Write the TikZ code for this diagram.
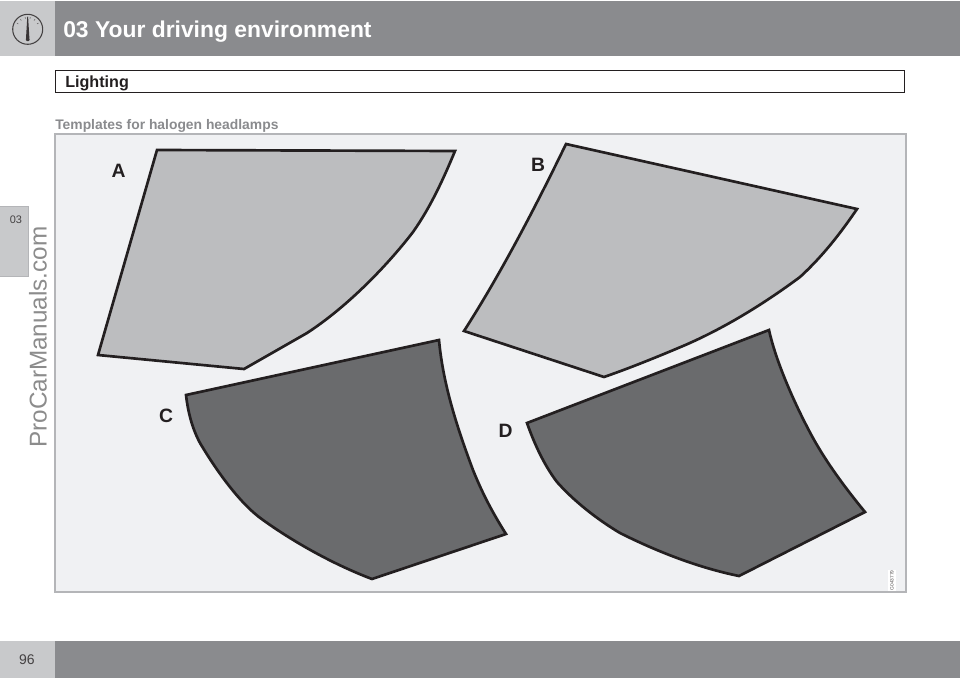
\documentclass[tikz,border=0pt]{standalone}
\usepackage{fontspec}
\usetikzlibrary{calc}
\setmainfont{Liberation Sans}
\definecolor{bandgray}{HTML}{8A8B8E}
\definecolor{tabgray}{HTML}{C8C9CB}
\definecolor{panelgray}{HTML}{F0F1F3}
\definecolor{panelline}{HTML}{B4B5B8}
\definecolor{lightshape}{HTML}{BCBDBF}
\definecolor{darkshape}{HTML}{6A6B6D}
\definecolor{outlinecol}{HTML}{231F20}
\definecolor{headgray}{HTML}{8A8B8E}
\definecolor{wmgray}{HTML}{8C8C8C}
\tikzset{
  lamp/.style={draw=outlinecol,line width=2pt,line join=miter},
  lamplabel/.style={font=\bfseries\fontsize{14.5}{16}\selectfont,text=outlinecol,inner sep=0pt,anchor=center}
}
\begin{document}
\begin{tikzpicture}[x=0.75pt,y=-0.75pt]
\useasboundingbox (0,0) rectangle (960,678);
\fill[white] (0,0) rectangle (960,678);
% header band
\fill[tabgray] (0,1) rectangle (55,55.5);
\fill[bandgray] (55,1) rectangle (960,55.5);
\node[anchor=base west,inner sep=0pt,text=white,font=\bfseries\fontsize{17.15}{19}\selectfont] (title) at (63,37) {03 Your driving environment};
% gauge icon
\draw[outlinecol!85,line width=0.8pt] (27.7,29.3) circle (15);
\foreach \a in {-60,-36,-12,12,36,60}
  \draw[outlinecol!70,line width=0.4pt] ($(27.7,29.3)+(\a-90:12.5)$) -- ($(27.7,29.3)+(\a-90:10.8)$);
\fill[outlinecol!90] (27.3,16.5) -- (28.1,16.5) -- (29.4,38.5) -- (29.6,40) -- (28.6,41) -- (26.8,41) -- (25.8,40) -- (26,38.5) -- cycle;
% section box
\draw[outlinecol,line width=0.7pt,fill=white] (55,70) rectangle (904,92.5);
\node[anchor=base west,inner sep=0pt,text=outlinecol,font=\bfseries\fontsize{12.1}{14}\selectfont] (section) at (65,87) {Lighting};
\node[anchor=base west,inner sep=0pt,text=headgray,font=\bfseries\fontsize{10.4}{12}\selectfont] (sub) at (55,129) {Templates for halogen headlamps};
% side tab
\fill[tabgray] (0,206) rectangle (28,276);
\draw[panelline,line width=0.5pt] (0,206) -- (28,206) -- (28,276) -- (0,276);
\node[text=outlinecol!85,font=\fontsize{8.2}{10}\selectfont,inner sep=0pt] (chap) at (16,219.5) {03};
% watermark
\node[rotate=90,anchor=base west,inner sep=0pt,text=wmgray,font=\fontsize{18.2}{20}\selectfont] (wm) at (46.5,448) {ProCarManuals.com};
% panel
\draw[panelline,line width=0.8pt,fill=panelgray] (55,134) rectangle (906,592);
% tiny code
\fill[white] (888,570) rectangle (896,591);
\node[rotate=90,inner sep=0pt,text=outlinecol!80,font=\fontsize{3.6}{4}\selectfont] (code) at (892,580.5) {G043779};
% templates
\draw[lamp,fill=lightshape] (157,150) -- (455,151) .. controls (443,180) and (430,208) .. (413,232) .. controls (390,262) and (350,305) .. (307,333) -- (244,369) -- (98,355) -- cycle;
\draw[lamp,fill=lightshape] (566,144) -- (857,209) .. controls (842,231) and (824,255) .. (800,277) .. controls (765,303) and (725,328) .. (683,346) .. controls (657,357) and (630,368) .. (604,377) -- (464,331) .. controls (500,275) and (535,208) .. (566,144) -- cycle;
\draw[lamp,fill=darkshape] (186,395) -- (439,340) .. controls (443,385) and (458,430) .. (473,470) .. controls (483,495) and (494,515) .. (506,534) -- (372,579) .. controls (335,565) and (295,543) .. (263,520) .. controls (240,504) and (216,470) .. (200,443) .. controls (192,428) and (188,412) .. (186,395) -- cycle;
\draw[lamp,fill=darkshape] (527,423) -- (769,330) .. controls (776,362) and (795,405) .. (813,438) .. controls (828,465) and (847,490) .. (865,512) -- (739,576) .. controls (700,568) and (660,553) .. (620,533) .. controls (595,518) and (573,500) .. (557,482) .. controls (544,465) and (534,443) .. (527,423) -- cycle;
\node[lamplabel] (la) at (118.5,170.5) {A};
\node[lamplabel] (lb) at (538,165) {B};
\node[lamplabel] (lc) at (166,416) {C};
\node[lamplabel] (ld) at (505.5,431) {D};
% footer
\fill[tabgray] (0,641) rectangle (55,678);
\fill[bandgray] (55,641) rectangle (960,678);
\node[text=outlinecol!85,font=\fontsize{10.5}{12}\selectfont,inner sep=0pt] (page) at (27,660) {96};
\end{tikzpicture}
\end{document}
